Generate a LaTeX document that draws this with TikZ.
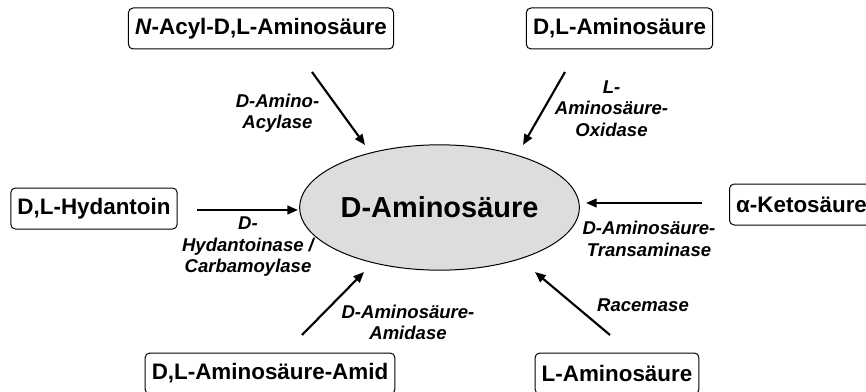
\documentclass[tikz,border=0pt]{standalone}
\usepackage{fontspec}
\setmainfont{Liberation Sans}
\usepackage{xcolor}
\usepackage{tikz}
\usetikzlibrary{arrows.meta,shapes.geometric}
\definecolor{Ink}{HTML}{000000}
\definecolor{SoftGray}{HTML}{DDDDDD}
\tikzset{
  substrate/.style={draw=Ink,line width=0.75pt,rounded corners=3.5pt,minimum height=30.75pt,inner xsep=5pt,align=center,font=\fontsize{16.8}{20}\selectfont\bfseries},
  product/.style={draw=Ink,fill=SoftGray,line width=0.75pt,ellipse,minimum width=191pt,minimum height=94pt,inner sep=0pt,font=\fontsize{21.7}{26}\selectfont\bfseries},
  enzyme/.style={align=center,inner sep=0pt,font=\fontsize{13.9}{16.1}\selectfont\bfseries\itshape},
  conv/.style={-{Triangle[length=8pt,width=6.5pt]},line width=1.6pt,color=Ink}
}

\begin{document}
\begin{tikzpicture}[x=0.75pt,y=-0.75pt]
  \useasboundingbox (0,0) rectangle (866,392);
  \node[product] (damino) at (439.5,207.5) {D-Aminosäure};
  \node[substrate] (nacyl) at (261,28.5) {\textit{N}-Acyl-D,L-Aminosäure};
  \node[substrate] (dlamino) at (619.5,28.5) {D,L-Aminosäure};
  \node[substrate] (hydantoin) at (94,208.5) {D,L-Hydantoin};
  \node[substrate,anchor=west] (keto) at (729,204.5) {α-Ketosäure};
  \node[substrate] (amid) at (270,373.5) {D,L-Aminosäure-Amid};
  \node[substrate] (lamino) at (617,373.5) {L-Aminosäure};
  % arrow ends
  \coordinate (c1) at (312,72);  \coordinate (e1) at (365,145);
  \coordinate (c2) at (565,72);  \coordinate (e2) at (523,145);
  \coordinate (c3) at (197,210); \coordinate (e3) at (298,210);
  \coordinate (c4) at (702,203); \coordinate (e4) at (586,203);
  \coordinate (c5) at (302,335); \coordinate (e5) at (364,272);
  \coordinate (c6) at (610,335); \coordinate (e6) at (535,272);
  \draw[conv] (c1) -- (e1);
  \draw[conv] (c2) -- (e2);
  \draw[conv] (c3) -- (e3);
  \draw[conv] (c4) -- (e4);
  \draw[conv] (c5) -- (e5);
  \draw[conv] (c6) -- (e6);
  \node[enzyme] (acylase) at (277.5,113) {D-Amino-\\Acylase};
  \node[enzyme] (oxidase) at (611.5,108.5) {L-\\Aminosäure-\\Oxidase};
  \node[enzyme] (hydantoinase) at (248,247) {D-\\Hydantoinase /\\Carbamoylase};
  \node[enzyme] (transaminase) at (649,239) {D-Aminosäure-\\Transaminase};
  \node[enzyme] (amidase) at (408,322.5) {D-Aminosäure-\\Amidase};
  \node[enzyme] (racemase) at (643,305) {Racemase};
\end{tikzpicture}
\end{document}
